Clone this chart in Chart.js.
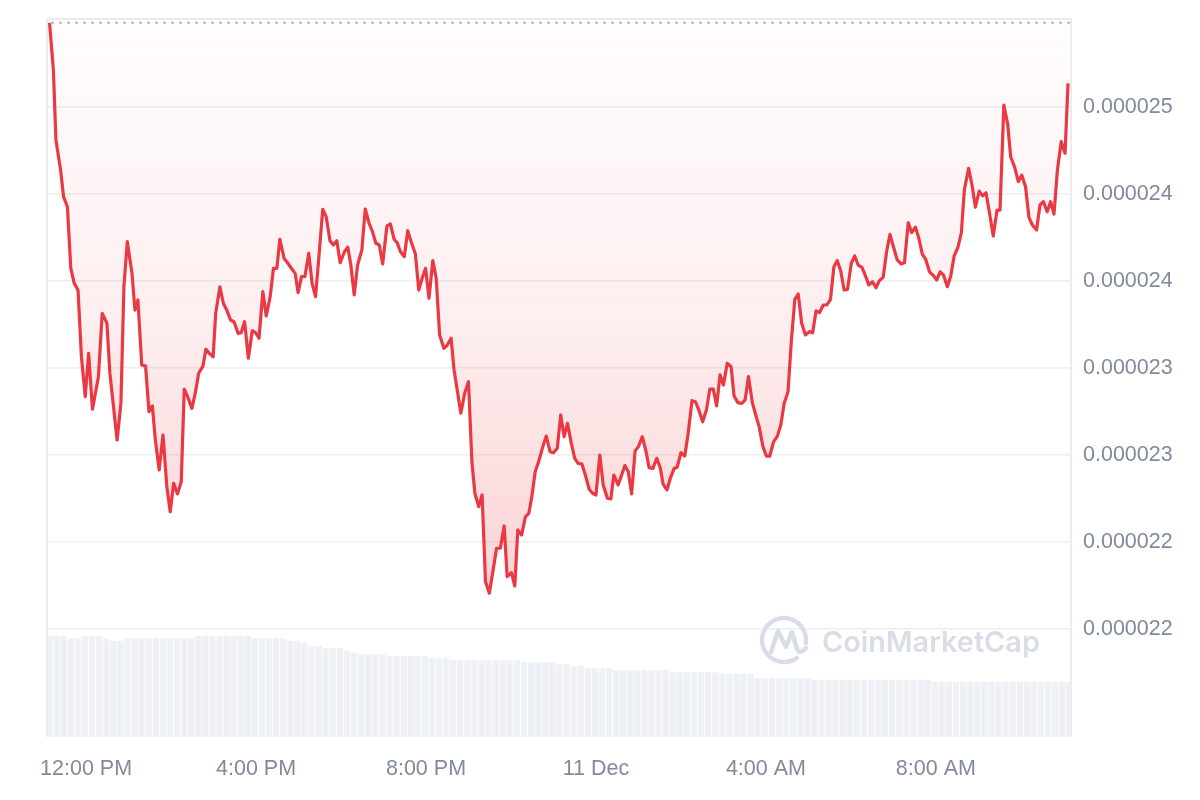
<!DOCTYPE html>
<html>
<head>
<meta charset="utf-8">
<style>
  html, body { margin: 0; padding: 0; background: #ffffff; }
  #wrap { width: 1200px; height: 800px; position: relative; }
</style>
</head>
<body>
<div id="wrap"><canvas id="priceChart"></canvas></div>
<script src="https://cdn.jsdelivr.net/npm/chart.js"></script>
<script>
    // Price points: hours counted from 10 Dec 00:00, price in millionths of a dollar
    const priceHours = [
        11.14, 11.23, 11.29, 11.40, 11.47, 11.56, 11.64, 11.72, 11.81, 11.89,
        11.98, 12.06, 12.15, 12.29, 12.38, 12.49, 12.56, 12.73, 12.82, 12.89,
        12.97, 13.08, 13.15, 13.22, 13.31, 13.40, 13.48, 13.56, 13.63, 13.72,
        13.81, 13.90, 13.98, 14.06, 14.15, 14.24, 14.31, 14.39, 14.49, 14.57,
        14.65, 14.75, 14.82, 14.90, 14.99, 15.05, 15.15, 15.23, 15.31, 15.40,
        15.48, 15.58, 15.65, 15.73, 15.82, 15.91, 15.99, 16.07, 16.16, 16.24,
        16.33, 16.41, 16.49, 16.56, 16.66, 16.75, 16.83, 16.92, 16.99, 17.07,
        17.15, 17.24, 17.32, 17.40, 17.48, 17.57, 17.65, 17.74, 17.82, 17.90,
        17.98, 18.08, 18.16, 18.23, 18.31, 18.39, 18.49, 18.57, 18.66, 18.74,
        18.82, 18.90, 18.98, 19.08, 19.16, 19.25, 19.32, 19.40, 19.49, 19.57,
        19.65, 19.75, 19.83, 19.91, 19.99, 20.07, 20.16, 20.24, 20.32, 20.42,
        20.49, 20.59, 20.66, 20.74, 20.82, 20.91, 21.00, 21.08, 21.15, 21.24,
        21.32, 21.40, 21.49, 21.58, 21.66, 21.75, 21.84, 21.91, 22.01, 22.09,
        22.16, 22.25, 22.34, 22.42, 22.49, 22.57, 22.65, 22.75, 22.83, 22.92,
        23.00, 23.09, 23.17, 23.25, 23.33, 23.42, 23.50, 23.58, 23.67, 23.75,
        23.84, 23.92, 24.00, 24.09, 24.17, 24.27, 24.35, 24.42, 24.52, 24.59,
        24.68, 24.76, 24.84, 24.92, 25.00, 25.09, 25.18, 25.25, 25.34, 25.43,
        25.51, 25.58, 25.67, 25.75, 25.84, 25.91, 26.00, 26.09, 26.17, 26.26,
        26.34, 26.42, 26.51, 26.60, 26.68, 26.76, 26.84, 26.92, 27.00, 27.09,
        27.18, 27.25, 27.34, 27.43, 27.51, 27.59, 27.68, 27.76, 27.84, 27.93,
        28.01, 28.09, 28.18, 28.27, 28.35, 28.43, 28.52, 28.60, 28.68, 28.76,
        28.84, 28.93, 29.02, 29.10, 29.18, 29.26, 29.35, 29.43, 29.52, 29.60,
        29.68, 29.76, 29.84, 29.92, 30.01, 30.09, 30.17, 30.26, 30.35, 30.42,
        30.51, 30.59, 30.67, 30.76, 30.84, 30.92, 31.00, 31.09, 31.18, 31.26,
        31.35, 31.43, 31.52, 31.60, 31.68, 31.76, 31.85, 31.93, 32.02, 32.10,
        32.18, 32.27, 32.35, 32.43, 32.52, 32.60, 32.67, 32.77, 32.85, 32.93,
        33.02, 33.10, 33.18, 33.27, 33.35, 33.44, 33.51, 33.60, 33.69, 33.76,
        33.85, 33.94, 34.02, 34.11, 34.19, 34.27, 34.37, 34.45, 34.53, 34.62,
        34.70, 34.78, 34.86, 34.95, 35.04, 35.11
    ];

    const priceMicroUsd = [
        25.484, 25.213, 24.810, 24.638, 24.484, 24.427, 24.073, 23.987, 23.948, 23.565,
        23.335, 23.584, 23.263, 23.450, 23.814, 23.757, 23.470, 23.086, 23.297, 23.967,
        24.226, 24.044, 23.833, 23.891, 23.517, 23.511, 23.249, 23.282, 23.086, 22.914,
        23.115, 22.818, 22.674, 22.837, 22.776, 22.847, 23.379, 23.335, 23.268, 23.355,
        23.470, 23.511, 23.607, 23.584, 23.565, 23.814, 23.967, 23.872, 23.833, 23.776,
        23.766, 23.699, 23.703, 23.766, 23.556, 23.714, 23.703, 23.671, 23.939, 23.799,
        23.906, 24.073, 24.073, 24.240, 24.130, 24.102, 24.073, 24.044, 23.933, 24.025,
        24.025, 24.159, 23.987, 23.910, 24.140, 24.412, 24.370, 24.232, 24.207, 24.232,
        24.105, 24.168, 24.194, 24.092, 23.920, 24.092, 24.178, 24.414, 24.332, 24.283,
        24.217, 24.207, 24.098, 24.316, 24.328, 24.240, 24.220, 24.168, 24.140, 24.289,
        24.226, 24.155, 23.948, 24.016, 24.073, 23.901, 24.117, 24.016, 23.690, 23.613,
        23.628, 23.671, 23.489, 23.364, 23.240, 23.355, 23.421, 22.961, 22.780, 22.703,
        22.770, 22.272, 22.205, 22.339, 22.464, 22.464, 22.592, 22.301, 22.324, 22.247,
        22.569, 22.540, 22.645, 22.665, 22.760, 22.904, 22.961, 23.048, 23.109, 23.019,
        23.013, 23.039, 23.230, 23.105, 23.182, 23.067, 22.981, 22.952, 22.948, 22.885,
        22.803, 22.780, 22.770, 23.000, 22.828, 22.751, 22.747, 22.885, 22.828, 22.875,
        22.939, 22.904, 22.776, 23.023, 23.048, 23.105, 23.019, 22.927, 22.923, 22.981,
        22.929, 22.833, 22.799, 22.866, 22.923, 22.929, 23.013, 22.994, 23.125, 23.312,
        23.306, 23.259, 23.191, 23.259, 23.379, 23.379, 23.282, 23.460, 23.402, 23.527,
        23.507, 23.339, 23.301, 23.297, 23.316, 23.450, 23.301, 23.230, 23.163, 23.048,
        22.994, 22.994, 23.076, 23.109, 23.172, 23.297, 23.364, 23.661, 23.895, 23.925,
        23.757, 23.690, 23.709, 23.703, 23.828, 23.818, 23.862, 23.862, 23.895, 24.082,
        24.117, 24.059, 23.948, 23.952, 24.102, 24.144, 24.092, 24.079, 24.025, 23.977,
        23.996, 23.961, 24.002, 24.021, 24.168, 24.268, 24.197, 24.121, 24.098, 24.105,
        24.335, 24.278, 24.309, 24.245, 24.155, 24.125, 24.053, 24.034, 24.006, 24.053,
        24.034, 23.967, 24.029, 24.144, 24.194, 24.278, 24.523, 24.648, 24.552, 24.424,
        24.517, 24.489, 24.507, 24.379, 24.259, 24.408, 24.408, 25.011, 24.902, 24.714,
        24.657, 24.571, 24.609, 24.542, 24.366, 24.322, 24.293, 24.437, 24.456, 24.398,
        24.456, 24.385, 24.638, 24.801, 24.734, 25.136
    ];

    // Volume bars, one every 10 minutes from the first price point (relative units)
    const volumeStartHour = 11.14;
    const volumeStepHours = 1 / 6;
    const volumes = [
        30.4, 30.4, 30.4, 29.7, 29.7, 30.4, 30.4, 30.4, 29.7, 29.0,
        29.0, 29.7, 29.7, 29.7, 29.7, 29.7, 29.7, 29.7, 29.7, 29.7,
        29.7, 30.4, 30.4, 30.4, 30.4, 30.4, 30.4, 30.4, 30.4, 29.7,
        29.7, 29.7, 29.7, 29.7, 29.0, 29.0, 28.4, 27.4, 27.4, 26.7,
        26.7, 26.7, 26.0, 25.4, 25.0, 25.0, 25.0, 25.0, 24.4, 24.4,
        24.4, 24.4, 24.4, 24.4, 23.7, 23.7, 23.7, 23.1, 23.1, 23.1,
        23.1, 23.1, 23.1, 23.1, 23.1, 23.1, 23.1, 22.6, 22.6, 22.6,
        22.6, 22.6, 21.9, 21.9, 21.3, 21.3, 20.7, 20.7, 20.7, 20.7,
        20.2, 20.2, 20.2, 20.2, 20.2, 20.2, 20.2, 20.2, 19.5, 19.5,
        19.5, 19.5, 19.5, 19.5, 19.5, 18.9, 18.9, 18.9, 18.9, 18.9,
        17.7, 17.7, 17.7, 17.7, 17.7, 17.7, 17.7, 17.7, 17.2, 17.2,
        17.2, 17.2, 17.2, 17.2, 17.2, 17.2, 17.2, 17.2, 17.2, 17.2,
        17.2, 17.2, 17.2, 17.2, 17.2, 16.6, 16.6, 16.6, 16.6, 16.6,
        16.6, 16.6, 16.6, 16.6, 16.6, 16.6, 16.6, 16.6, 16.6, 16.6,
        16.6, 16.6, 16.6, 16.6, 16.6
    ];

    // Axis ticks
    const xTickHours = [12, 16, 20, 24, 28, 32];
    const xTickLabels = ['12:00 PM', '4:00 PM', '8:00 PM', '11 Dec', '4:00 AM', '8:00 AM'];
    const yTickValues = [22.0, 22.5, 23.0, 23.5, 24.0, 24.5, 25.0];
    const yTickLabels = ['0.000022', '0.000022', '0.000023', '0.000023', '0.000024', '0.000024', '0.000025'];

    const RED = '#ea3943';
    const TICK_FONT = { family: "'Liberation Sans', Arial, sans-serif", size: 21.5 };

    const priceData = priceHours.map((h, i) => ({ x: h, y: priceMicroUsd[i] }));
    const volumeData = volumes.map((v, i) => ({ x: volumeStartHour + i * volumeStepHours, y: v }));

    // Frame, max-price dotted line and watermark
    const decorPlugin = {
        id: 'decor',
        beforeDatasetsDraw(chart) {
            const ctx = chart.ctx;
            const a = chart.chartArea;
            ctx.save();
            ctx.strokeStyle = '#ececec';
            ctx.lineWidth = 2;
            ctx.beginPath();
            ctx.moveTo(a.left, a.bottom);
            ctx.lineTo(a.left, a.top);
            ctx.lineTo(a.right, a.top);
            ctx.lineTo(a.right, a.bottom);
            ctx.stroke();
            ctx.restore();
        },
        afterDatasetsDraw(chart) {
            const ctx = chart.ctx;
            const a = chart.chartArea;
            ctx.save();
            // dotted line at the period high
            const yMax = chart.scales.y.getPixelForValue(Math.max(...priceMicroUsd));
            ctx.setLineDash([2, 6]);
            ctx.strokeStyle = '#9ea3ac';
            ctx.lineWidth = 2;
            ctx.beginPath();
            ctx.moveTo(chart.scales.x.getPixelForValue(priceHours[0]) + 2, yMax);
            ctx.lineTo(a.right, yMax);
            ctx.stroke();
            ctx.setLineDash([]);

            ctx.strokeStyle = '#d8dde6';
            ctx.fillStyle = '#d8dde6';
            ctx.lineWidth = 4.5;
            ctx.lineCap = 'round';
            ctx.lineJoin = 'round';
            // logo ring
            ctx.beginPath();
            ctx.arc(784, 640, 22, 0.95, Math.PI * 2 + 0.15);
            ctx.stroke();
            // logo wave
            ctx.beginPath();
            ctx.moveTo(771, 652);
            ctx.lineTo(778, 631);
            ctx.lineTo(786, 647);
            ctx.lineTo(792, 632);
            ctx.lineTo(797, 649);
            ctx.quadraticCurveTo(800, 655, 806, 648);
            ctx.stroke();
            // wordmark
            let size = 30;
            ctx.font = `600 ${size}px Inter, 'Liberation Sans', sans-serif`;
            const w = ctx.measureText('CoinMarketCap').width;
            size = size * 218 / w;
            ctx.font = `600 ${size}px Inter, 'Liberation Sans', sans-serif`;
            ctx.textBaseline = 'alphabetic';
            ctx.fillText('CoinMarketCap', 822, 652);
            ctx.restore();
        }
    };

    function crearGrafico() {
        const ctx = document.getElementById('priceChart').getContext('2d');
        new Chart(ctx, {
            type: 'line',
            data: {
                datasets: [{
                    label: 'Price',
                    data: priceData,
                    yAxisID: 'y',
                    borderColor: RED,
                    borderWidth: 3.2,
                    borderJoinStyle: 'round',
                    pointRadius: 0,
                    tension: 0,
                    order: 0,
                    fill: 'end',
                    backgroundColor: (c) => {
                        const chart = c.chart;
                        const a = chart.chartArea;
                        if (!a) return 'rgba(234,57,67,0.06)';
                        const yLow = chart.scales.y.getPixelForValue(Math.min(...priceMicroUsd));
                        const g = chart.ctx.createLinearGradient(0, a.top, 0, yLow);
                        g.addColorStop(0, 'rgba(234,57,67,0.01)');
                        g.addColorStop(0.5, 'rgba(234,57,67,0.08)');
                        g.addColorStop(1, 'rgba(234,57,67,0.22)');
                        return g;
                    }
                }, {
                    type: 'bar',
                    label: 'Volume',
                    data: volumeData,
                    yAxisID: 'yVol',
                    backgroundColor: '#edf0f4',
                    barPercentage: 1,
                    categoryPercentage: 0.88,
                    order: 1
                }]
            },
            options: {
                responsive: true,
                maintainAspectRatio: false,
                animation: false,
                layout: { padding: { top: 19, left: 47, right: 0, bottom: 0 } },
                plugins: {
                    legend: { display: false },
                    tooltip: { enabled: false }
                },
                scales: {
                    x: {
                        type: 'linear',
                        min: 11.08,
                        max: 35.18,
                        offset: false,
                        grid: { display: false },
                        border: { display: false },
                        afterBuildTicks: (s) => { s.ticks = xTickHours.map(v => ({ value: v })); },
                        afterFit: (s) => { s.height = 63; s.paddingLeft = 0; s.paddingRight = 0; },
                        ticks: {
                            autoSkip: false,
                            maxRotation: 0,
                            padding: 11,
                            color: '#808a9d',
                            font: TICK_FONT,
                            callback: (v, i) => xTickLabels[i]
                        }
                    },
                    y: {
                        position: 'right',
                        min: 21.379,
                        max: 25.506,
                        grid: { color: '#eeeeee', lineWidth: 1.5, drawTicks: false },
                        border: { display: false },
                        afterBuildTicks: (s) => { s.ticks = yTickValues.map(v => ({ value: v })); },
                        afterFit: (s) => { s.width = 129; s.paddingTop = 0; s.paddingBottom = 0; },
                        ticks: {
                            padding: 12,
                            color: '#808a9d',
                            font: TICK_FONT,
                            callback: (v, i) => yTickLabels[i]
                        }
                    },
                    yVol: {
                        display: false,
                        min: 0,
                        max: 216.1
                    }
                }
            },
            plugins: [decorPlugin]
        });
    }

    document.addEventListener('DOMContentLoaded', () => {
        crearGrafico();
    });
</script>
</body>
</html>
